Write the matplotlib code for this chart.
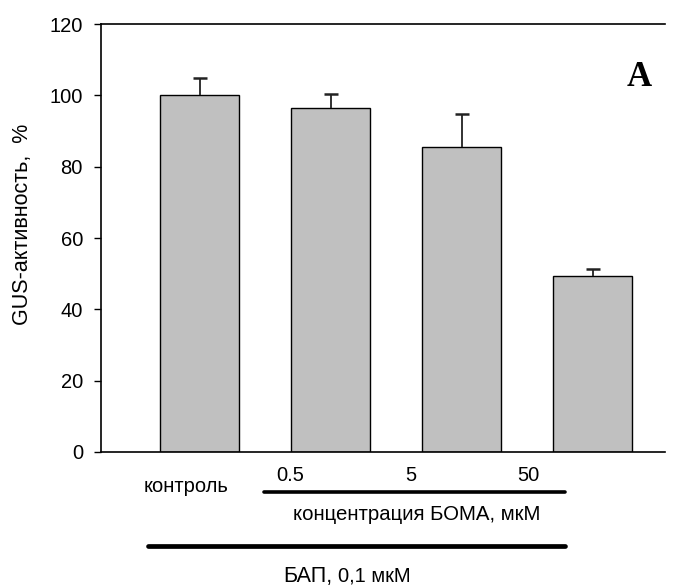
import matplotlib
matplotlib.use('Agg')
import matplotlib.pyplot as plt
import numpy as np

plt.rcParams['font.family'] = ['Liberation Sans', 'DejaVu Sans']

# data
groups = ['контроль', '0.5', '5', '50']
activity = [100, 96.5, 85.5, 49.3]
err = [5.0, 4.0, 9.3, 2.1]

fig = plt.figure(figsize=(6.88, 5.86), dpi=100)
ax = fig.add_axes([0.1468, 0.2287, 0.8198, 0.7303])

x = np.arange(len(activity))
ax.bar(x, activity, width=0.6, color='#c0c0c0', edgecolor='black', linewidth=1.0, zorder=2)
eb = ax.errorbar(x, activity, yerr=[np.zeros(len(err)), err], fmt='none', ecolor='#222222',
                 elinewidth=1.3, capsize=4.7, capthick=1.8, zorder=3)
# only the upper caps
eb[1][0].set_visible(False)

ax.set_xlim(-0.752, 3.553)
ax.set_ylim(0, 120)
ax.set_yticks(np.arange(0, 121, 20))
ax.set_xticks([])
ax.tick_params(axis='y', direction='out', length=5, width=1, labelsize=14.5, pad=8)
ax.spines['right'].set_visible(False)
for s in ['left', 'top', 'bottom']:
    ax.spines[s].set_linewidth(1.2)

ax.set_ylabel('GUS-активность,  %', fontsize=15.5)
ax.yaxis.set_label_coords(-0.121, 0.533)

ax.text(0.955, 0.875, 'A', transform=ax.transAxes, ha='center', va='center',
        fontsize=25, fontweight='bold', family='Liberation Serif')

# labels under the axis
lab_x = [-0.10, 0.69, 1.61, 2.51]
ax.text(lab_x[0], -11.2, groups[0], ha='center', va='baseline', fontsize=14.5, clip_on=False)
for xi, g in zip(lab_x[1:], groups[1:]):
    ax.text(xi, -8.1, g, ha='center', va='baseline', fontsize=14.5, clip_on=False)

ax.plot([0.49, 2.79], [-11.3, -11.3], color='black', lw=2.6, clip_on=False, solid_capstyle='round')
ax.text(1.66, -19.1, 'концентрация БОМА, мкМ', ha='center', va='baseline', fontsize=14.7, clip_on=False)
ax.plot([-0.39, 2.79], [-26.4, -26.4], color='black', lw=3.4, clip_on=False, solid_capstyle='round')
ax.text(0.637, -36.4, 'БАП,', ha='left', va='baseline', fontsize=15.5, clip_on=False)
ax.text(1.06, -36.4, '0,1 мкМ', ha='left', va='baseline', fontsize=14.5, clip_on=False)

fig.savefig('out.png', dpi=100)
